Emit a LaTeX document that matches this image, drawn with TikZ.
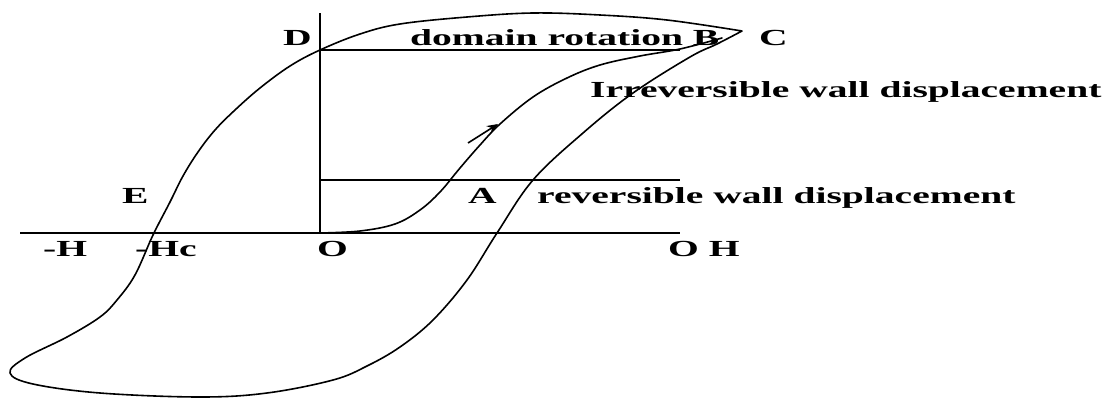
\documentclass[tikz,border=0pt]{standalone}
\usepackage{fontspec}
\setmainfont{Liberation Serif}
\usetikzlibrary{arrows.meta}
\newcommand\wdtxt[1]{\scalebox{1.72}[1]{#1}}
\begin{document}
\begin{tikzpicture}[x=1pt,y=-1pt,
  curve/.style={line width=1.6pt, line join=round, line cap=round},
  axis/.style={line width=1.6pt},
  lbl/.style={anchor=base west, inner sep=0pt, font=\fontsize{23}{23}\selectfont\bfseries}]
\useasboundingbox[fill=white] (0,0) rectangle (1109,399);
% axes and level lines
\coordinate (ytop) at (320,13);
\coordinate (O) at (320,233);
\coordinate (xl) at (20,233);
\coordinate (xr) at (680,233);
\coordinate (Dp) at (320,50);
\coordinate (Bp) at (680,50);
\coordinate (Al) at (320,180);
\coordinate (Ar) at (680,180);
\draw[axis] (ytop) -- (O);
\draw[axis] (xl) -- (xr);
\draw[axis] (Dp) -- (Bp);
\draw[axis] (Al) -- (Ar);
% hysteresis loop
\draw[curve] plot[smooth, tension=0.6] coordinates {
 (742,31) (667,20) (600,15) (533,13) (467,17) (400,24) (360,34) (320,50)
 (290,66) (260,88) (235,110) (215,130) (198,152) (183,176) (170,202)
 (153,235) (135,275)
 (117,300) (100,317) (67,337) (25,358) (10,373) (33,384) (100,393)
 (200,397) (267,393) (333,380) (367,366) (400,347) (433,320) (467,280)
 (497,233) (533,180) (583,133) (633,93) (690,57) (717,44) (742,31)};
% initial magnetization curve
\draw[curve] plot[smooth, tension=0.6] coordinates {
 (320,233) (360,231) (395,224) (420,210) (440,192) (460,168) (480,145)
 (500,124) (533,97) (567,78) (600,65) (640,56) (680,49) (722,38)};
\coordinate (arT) at (468,143);
\coordinate (arH) at (498,124);
\draw[line width=1.6pt, -{Stealth[length=11pt,width=9pt]}] (arT) -- (arH);
% labels
\node[lbl] (D) at (283,45) {\wdtxt{D}};
\node[lbl] (dr) at (410,45) {\wdtxt{domain rotation B}};
\node[lbl] (C) at (759,45) {\wdtxt{C}};
\node[lbl] (irr) at (590,97) {\wdtxt{Irreversible wall displacement}};
\node[lbl] (E) at (122,203) {\wdtxt{E}};
\node[lbl] (A) at (468,203) {\wdtxt{A}};
\node[lbl] (rev) at (537,203) {\wdtxt{reversible wall displacement}};
\node[lbl] (mH) at (43,256) {\wdtxt{-H}};
\node[lbl] (mHc) at (135,256) {\wdtxt{-Hc}};
\node[lbl] (Ol) at (317,256) {\wdtxt{O}};
\node[lbl] (OH) at (668,256) {\wdtxt{O H}};
\end{tikzpicture}
\end{document}
